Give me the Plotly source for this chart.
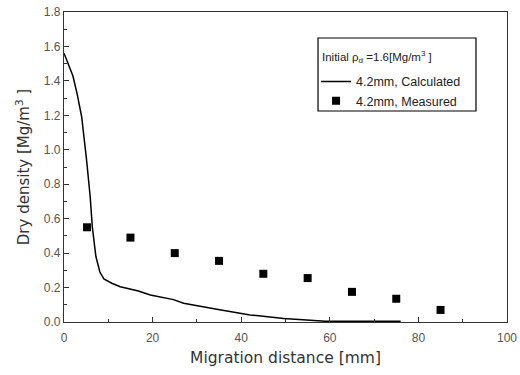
import plotly.graph_objects as go

calc_x = [0, 1, 2, 3, 4, 5.1, 5.9, 6.4, 7.2, 8.1, 9, 10.8, 12.7, 16.8, 19.5, 24.7, 27, 34.5, 42, 49.6, 53.5, 59, 76]
calc_y = [1.56, 1.49, 1.43, 1.32, 1.19, 0.94, 0.73, 0.55, 0.38, 0.29, 0.25, 0.225, 0.205, 0.18, 0.157, 0.13, 0.109, 0.074, 0.041, 0.02, 0.012, 0.005, 0.005]

meas_x = [5.2, 15, 25, 35, 45, 55, 65, 75, 85]
meas_y = [0.55, 0.49, 0.40, 0.355, 0.28, 0.255, 0.175, 0.135, 0.07]

x_ticks = [0, 20, 40, 60, 80, 100]
y_ticks = [0.0, 0.2, 0.4, 0.6, 0.8, 1.0, 1.2, 1.4, 1.6, 1.8]

legend_title = "Initial ρ<sub>d</sub> =1.6[Mg/m<sup>3</sup> ]"

font_leg = "Liberation Sans Narrow, Arial Narrow, Liberation Sans, Arial, sans-serif"
font_tick = "Liberation Sans, Arial, sans-serif"
font_title = "DejaVu Sans, Liberation Sans, sans-serif"

fig = go.Figure()
fig.add_trace(go.Scatter(x=calc_x, y=calc_y, mode="lines", name="4.2mm, Calculated",
                         line=dict(color="black", width=1.5)))
fig.add_trace(go.Scatter(x=meas_x, y=meas_y, mode="markers", name="4.2mm, Measured",
                         marker=dict(symbol="square", size=8, color="black")))

axis_common = dict(showline=True, linecolor="#333", linewidth=1.2, mirror=True,
                   showgrid=False, zeroline=False, ticks="inside", ticklen=5,
                   tickcolor="#333", automargin=False,
                   tickfont=dict(size=12, color="#555", family=font_tick))

fig.update_xaxes(range=[0, 100], tickvals=x_ticks, ticktext=[str(v) for v in x_ticks],
                 minor=dict(ticks="inside", ticklen=3, dtick=10, tickcolor="#333"),
                 ticklabelstandoff=4,
                 title=dict(text="Migration distance [mm]", font=dict(size=15.5, color="#333", family=font_title), standoff=8),
                 **axis_common)
fig.update_yaxes(range=[0, 1.8], tickvals=y_ticks, ticktext=[f"{v:.1f}" for v in y_ticks],
                 minor=dict(ticks="inside", ticklen=3, dtick=0.1, tickcolor="#333"),
                 title=dict(text="Dry density [Mg/m<sup>3</sup> ]", font=dict(size=15, color="#333", family=font_title), standoff=10),
                 **axis_common)

# legend frame and title
fig.add_shape(type="rect", xref="paper", yref="paper", x0=0.5734, x1=0.930, y0=0.6806, y1=0.9161,
              line=dict(color="black", width=1.2), fillcolor="rgba(0,0,0,0)", layer="above")
fig.add_annotation(xref="paper", yref="paper", x=0.578, y=0.8548, xanchor="left", yanchor="middle",
                   text=legend_title, showarrow=False, font=dict(size=11.5, color="#222", family=font_leg))

fig.update_layout(
    width=520, height=375,
    margin=dict(l=64, r=13, t=12, b=53),
    paper_bgcolor="white", plot_bgcolor="white",
    showlegend=True,
    legend=dict(
        x=0.569, y=0.823, xanchor="left", yanchor="top",
        borderwidth=0, bgcolor="rgba(0,0,0,0)",
        font=dict(size=12.5, color="#222", family=font_leg),
        tracegroupgap=4, entrywidth=110,
    ),
)

fig.write_html("out.html", config={"displayModeBar": False},
               post_script="document.body.style.margin='0';")
